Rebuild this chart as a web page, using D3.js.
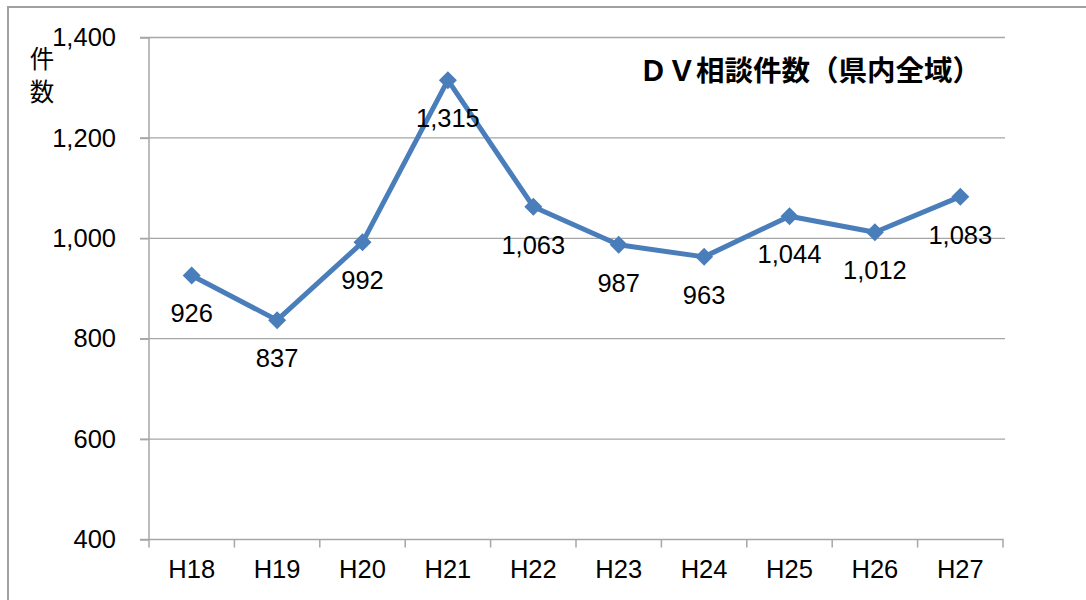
<!DOCTYPE html>
<html>
<head>
<meta charset="utf-8">
<script src="https://cdn.jsdelivr.net/npm/d3@7"></script>
<style>
  body { margin: 0; background: #fff; }
  svg { display: block; }
  .tick text { font-family: "Liberation Sans", Arial, sans-serif; font-size: 25.5px; fill: #000; }
</style>
</head>
<body>
<svg id="chart"></svg>
<script>
const years = ['H18', 'H19', 'H20', 'H21', 'H22', 'H23', 'H24', 'H25', 'H26', 'H27'];
const counts = [926, 837, 992, 1315, 1063, 987, 963, 1044, 1012, 1083];
const yTicks = [400, 600, 800, 1000, 1200, 1400];
const title = 'ＤＶ相談件数（県内全域）';
const yLabel = '件数';

const W = 1086, H = 600;
const margin = { top: 37.5, left: 149, right: 83, bottom: 60.5 };
const width = W - margin.left - margin.right;
const height = H - margin.top - margin.bottom;

const svg = d3.select('#chart').attr('width', W).attr('height', H);

// outer frame (right and bottom edges fall outside the picture)
svg.append('rect')
  .attr('x', 8).attr('y', 7)
  .attr('width', W + 20).attr('height', H + 20)
  .attr('fill', '#fff')
  .attr('stroke', '#a0a0a0')
  .attr('stroke-width', 2);

const chart = svg.append('g')
  .attr('transform', `translate(${margin.left}, ${margin.top})`);

const x = d3.scaleBand().domain(years).range([0, width]);
const y = d3.scaleLinear().domain([400, 1400]).range([height, 0]);

// gridlines
chart.append('g')
  .selectAll('line')
  .data(yTicks.filter(d => d > 400))
  .join('line')
    .attr('x1', -9).attr('x2', width + 2)
    .attr('y1', d => y(d)).attr('y2', d => y(d))
    .attr('stroke', '#a6a6a6')
    .attr('stroke-width', 1.3);

// y axis
const yAxisG = chart.append('g')
  .call(d3.axisLeft(y).tickValues(yTicks).tickFormat(d3.format(',')).tickSize(9).tickPadding(24));
yAxisG.selectAll('line, path').attr('stroke', '#a6a6a6').attr('stroke-width', 1.5);
yAxisG.select('.domain').attr('d', `M0,0V${height}`);

// x axis
const xAxisG = chart.append('g')
  .attr('transform', `translate(0, ${height})`)
  .call(d3.axisBottom(x).tickSize(0).tickPadding(20));
xAxisG.select('.domain').attr('d', `M-9,0H${width}V8`).attr('stroke', '#a6a6a6').attr('stroke-width', 1.5).attr('fill', 'none');
xAxisG.selectAll('.tick line').remove();
xAxisG.append('g')
  .selectAll('line')
  .data(years)
  .join('line')
    .attr('x1', d => x(d)).attr('x2', d => x(d))
    .attr('y1', 0).attr('y2', 8)
    .attr('stroke', '#a6a6a6')
    .attr('stroke-width', 1.5);

// line
const cx = d => x(d) + x.bandwidth() / 2;
const pts = years.map((d, i) => ({ year: d, value: counts[i] }));

chart.append('path')
  .datum(pts)
  .attr('fill', 'none')
  .attr('stroke', '#4a7ebb')
  .attr('stroke-width', 5)
  .attr('stroke-linejoin', 'round')
  .attr('d', d3.line().x(d => cx(d.year)).y(d => y(d.value)));

// diamond markers
chart.append('g')
  .selectAll('path')
  .data(pts)
  .join('path')
    .attr('transform', d => `translate(${cx(d.year)}, ${y(d.value)})`)
    .attr('d', 'M0,-9L9,0L0,9L-9,0Z')
    .attr('fill', '#4a7ebb');

// value labels
chart.append('g')
  .selectAll('text')
  .data(pts)
  .join('text')
    .attr('x', d => cx(d.year))
    .attr('y', d => y(d.value) + 47)
    .attr('text-anchor', 'middle')
    .attr('font-family', '"Liberation Sans", Arial, sans-serif')
    .attr('font-size', 25.5)
    .attr('fill', '#000')
    .text(d => d3.format(',')(d.value));

// title
svg.append('text')
  .attr('x', 810).attr('y', 81)
  .attr('text-anchor', 'middle')
  .attr('font-family', '"Noto Sans CJK JP", sans-serif')
  .attr('font-size', 28.5)
  .attr('font-weight', 'bold')
  .attr('fill', '#000')
  .text(title);

// y label, written vertically
svg.append('text')
  .attr('x', 42).attr('y', 46)
  .attr('writing-mode', 'vertical-rl')
  .attr('letter-spacing', 9)
  .attr('font-family', '"Noto Sans CJK JP", sans-serif')
  .attr('font-size', 24.5)
  .attr('fill', '#000')
  .text(yLabel);
</script>
</body>
</html>
